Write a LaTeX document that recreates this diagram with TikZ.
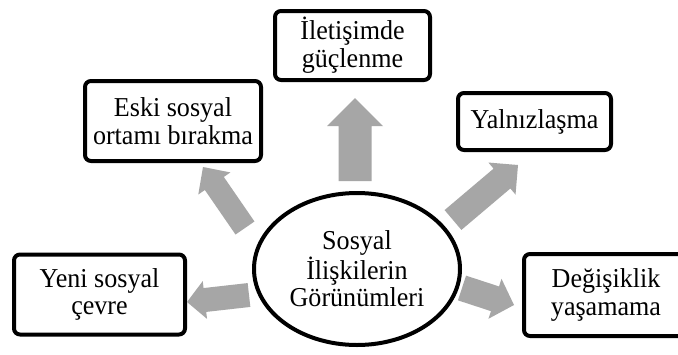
\documentclass[tikz,border=0pt]{standalone}
\usepackage{fontspec}
\setmainfont[FakeStretch=0.955]{Liberation Serif}
\usetikzlibrary{calc,shapes.geometric}
\definecolor{arrowgray}{RGB}{166,166,166}
\newcommand{\diagfont}{\fontsize{27.3}{27.8}\selectfont}
\newcommand{\blockarrow}[6]{%
  \coordinate (#1-b) at ($(#3)!#6!(#2)$);
  \fill[arrowgray] ($(#2)!#4!90:(#3)$) -- ($(#1-b)!#4!90:(#3)$) -- ($(#1-b)!#5!90:(#3)$) -- (#3)
    -- ($(#1-b)!#5!-90:(#3)$) -- ($(#1-b)!#4!-90:(#3)$) -- ($(#2)!#4!-90:(#3)$) -- cycle;
}
\tikzset{
  box/.style={draw, line width=4pt, rounded corners=6pt, inner sep=0pt, align=center, font=\diagfont, fill=white},
  hub/.style={draw, ellipse, line width=4pt, inner sep=0pt, align=center, font=\diagfont}
}
\begin{document}
\begin{tikzpicture}[x=1pt,y=-1pt]
\useasboundingbox (0,0) rectangle (678,354);
\clip (0,0) rectangle (678,354);
\fill[white] (0,0) rectangle (678,354);
% boxes
\node[box, minimum width=155pt, minimum height=69pt] (ilet) at (352.5,45.5) {İletişimde\\güçlenme};
\node[box, minimum width=176pt, minimum height=80pt] (eski) at (173,121) {Eski sosyal\\ortamı bırakma};
\node[box, minimum width=153pt, minimum height=57pt] (yaln) at (534.5,121.5) {Yalnızlaşma};
\node[box, minimum width=171pt, minimum height=80pt] (yeni) at (99.5,294.5) {Yeni sosyal\\çevre};
\node[box, minimum width=164pt, minimum height=82pt] (degi) at (606,295) {Değişiklik\\yaşamama};
\node[hub, minimum width=206pt, minimum height=152pt] (hub) at (357,269) {Sosyal\\İlişkilerin\\Görünümleri};
% arrow end points
\coordinate (upT) at (355,181);   \coordinate (upH) at (355,98);
\coordinate (esT) at (245,228);   \coordinate (esH) at (203,167);
\coordinate (yaT) at (453,220);   \coordinate (yaH) at (518,165);
\coordinate (yeT) at (249,295);   \coordinate (yeH) at (187,302);
\coordinate (deT) at (462,288);   \coordinate (deH) at (514,305);
\blockarrow{up}{upT}{upH}{16.5pt}{28pt}{28pt}
\blockarrow{es}{esT}{esH}{11.5pt}{19.5pt}{20pt}
\blockarrow{ya}{yaT}{yaH}{13pt}{21pt}{21pt}
\blockarrow{ye}{yeT}{yeH}{12pt}{19pt}{18pt}
\blockarrow{de}{deT}{deH}{13pt}{21pt}{20pt}
\end{tikzpicture}
\end{document}
